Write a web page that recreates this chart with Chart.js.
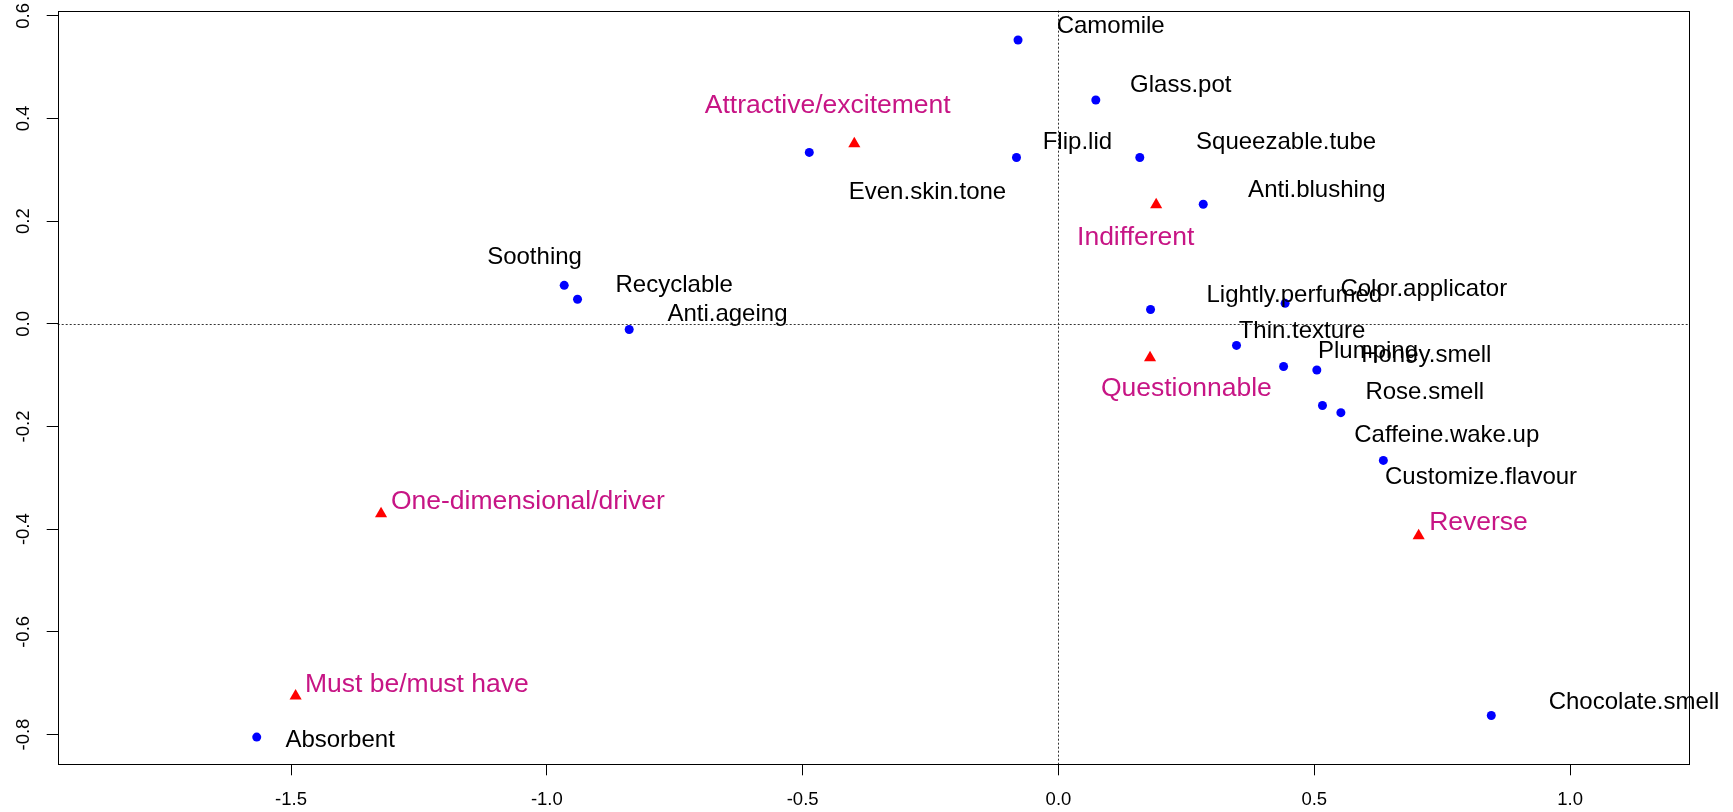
<!DOCTYPE html>
<html>
<head>
<meta charset="utf-8">
<script src="https://cdn.jsdelivr.net/npm/chart.js@4"></script>
<style>
  html, body { margin: 0; padding: 0; background: #fff; }
  #wrap { width: 1733px; height: 812px; position: relative; }
</style>
</head>
<body>
<div id="wrap"><canvas id="caPlot"></canvas></div>
<script>
// attributes (blue points)
const attrNames = ['Camomile', 'Glass.pot', 'Flip.lid', 'Squeezable.tube', 'Even.skin.tone', 'Anti.blushing',
  'Soothing', 'Recyclable', 'Anti.ageing', 'Lightly.perfumed', 'Color.applicator', 'Thin.texture',
  'Plumping', 'Honey.smell', 'Rose.smell', 'Caffeine.wake.up', 'Customize.flavour', 'Absorbent', 'Chocolate.smell'];
const attrX = [-0.079, 0.073, -0.082, 0.159, -0.487, 0.283, -0.966, -0.940, -0.839, 0.180, 0.443, 0.348,
  0.440, 0.505, 0.516, 0.552, 0.635, -1.567, 0.846];
const attrY = [0.553, 0.436, 0.324, 0.324, 0.334, 0.233, 0.075, 0.048, -0.011, 0.028, 0.040, -0.042,
  -0.083, -0.090, -0.159, -0.173, -0.266, -0.805, -0.763];
// where each attribute label sits
const attrLabX = [0.102, 0.239, 0.037, 0.445, -0.256, 0.505, -1.024, -0.751, -0.647, 0.461, 0.714, 0.476,
  0.605, 0.719, 0.716, 0.759, 0.826, -1.404, 1.125];
const attrLabY = [0.580, 0.464, 0.354, 0.354, 0.257, 0.260, 0.130, 0.075, 0.019, 0.056, 0.068, -0.015,
  -0.053, -0.062, -0.133, -0.218, -0.299, -0.812, -0.737];

// Kano categories (red triangles)
const catNames = ['Attractive/excitement', 'Indifferent', 'Questionnable', 'One-dimensional/driver', 'Must be/must have', 'Reverse'];
const catX = [-0.399, 0.191, 0.179, -1.324, -1.491, 0.704];
const catY = [0.351, 0.232, -0.066, -0.370, -0.725, -0.413];
const catLabX = [-0.451, 0.151, 0.250, -1.037, -1.254, 0.821];
const catLabY = [0.425, 0.168, -0.127, -0.346, -0.702, -0.388];

const xTicks = [-1.5, -1.0, -0.5, 0.0, 0.5, 1.0];
const yTicks = [-0.8, -0.6, -0.4, -0.2, 0.0, 0.2, 0.4, 0.6];

Chart.defaults.font.family = '"Liberation Sans", Arial, sans-serif';

const decor = {
  id: 'decor',
  beforeDatasetsDraw(chart) {
    const { ctx, chartArea: a, scales: { x, y } } = chart;
    const x0 = Math.round(x.getPixelForValue(0)) + 0.5;
    const y0 = Math.round(y.getPixelForValue(0)) + 0.5;
    ctx.save();
    ctx.strokeStyle = '#333';
    ctx.lineWidth = 1;
    ctx.setLineDash([2, 2]);
    ctx.beginPath();
    ctx.moveTo(a.left, y0); ctx.lineTo(a.right, y0);
    ctx.moveTo(x0, a.top); ctx.lineTo(x0, a.bottom);
    ctx.stroke();
    ctx.restore();
  },
  afterDatasetsDraw(chart) {
    const { ctx, chartArea: a, scales: { x, y } } = chart;
    ctx.save();
    ctx.textAlign = 'center';
    ctx.textBaseline = 'middle';

    ctx.font = '24px "Liberation Sans"';
    ctx.fillStyle = '#000';
    attrNames.forEach((n, i) => ctx.fillText(n, x.getPixelForValue(attrLabX[i]), y.getPixelForValue(attrLabY[i])));

    ctx.font = '26.5px "Liberation Sans"';
    ctx.fillStyle = '#C71585';
    catNames.forEach((n, i) => ctx.fillText(n, x.getPixelForValue(catLabX[i]), y.getPixelForValue(catLabY[i])));

    // y tick labels, rotated like R
    ctx.font = '18.5px "Liberation Sans"';
    ctx.fillStyle = '#000';
    yTicks.forEach(v => {
      ctx.save();
      ctx.translate(a.left - 33.7, y.getPixelForValue(v));
      ctx.rotate(-Math.PI / 2);
      ctx.fillText(v.toFixed(1), 0, 0);
      ctx.restore();
    });

    // box
    ctx.strokeStyle = '#000';
    ctx.lineWidth = 1;
    ctx.strokeRect(Math.round(a.left) + 0.5, Math.round(a.top) + 0.5,
      Math.round(a.right) - Math.round(a.left), Math.round(a.bottom) - Math.round(a.top));
    ctx.restore();
  }
};

new Chart(document.getElementById('caPlot'), {
  type: 'scatter',
  data: {
    datasets: [{
      label: 'Attributes',
      data: attrX.map((v, i) => ({ x: v, y: attrY[i] })),
      pointStyle: 'circle',
      pointRadius: 4.5,
      pointBackgroundColor: '#0000FF',
      pointBorderWidth: 0
    }, {
      label: 'Categories',
      data: catX.map((v, i) => ({ x: v, y: catY[i] })),
      pointStyle: 'triangle',
      pointRadius: 7,
      pointBackgroundColor: '#FF0000',
      pointBorderWidth: 0
    }]
  },
  options: {
    responsive: true,
    maintainAspectRatio: false,
    animation: false,
    layout: { padding: { top: 10.7, right: 43.7, left: 0, bottom: 0 } },
    plugins: { legend: { display: false }, tooltip: { enabled: false } },
    scales: {
      x: {
        min: -1.956, max: 1.233,
        afterBuildTicks: s => { s.ticks = xTicks.map(v => ({ value: v })); },
        afterFit: s => { s.height = 47.7; s.paddingLeft = s.paddingRight = 0; },
        ticks: { color: '#000', font: { size: 18.5 }, padding: 14, maxRotation: 0, callback: v => v.toFixed(1) },
        grid: { drawOnChartArea: false, color: '#000', tickLength: 11 },
        border: { display: false }
      },
      y: {
        min: -0.858, max: 0.610,
        afterBuildTicks: s => { s.ticks = yTicks.map(v => ({ value: v })); },
        afterFit: s => { s.width = 57.7; s.paddingTop = s.paddingBottom = 0; },
        ticks: { display: false },
        grid: { drawOnChartArea: false, color: '#000', tickLength: 11 },
        border: { display: false }
      }
    }
  },
  plugins: [decor]
});
</script>
</body>
</html>
